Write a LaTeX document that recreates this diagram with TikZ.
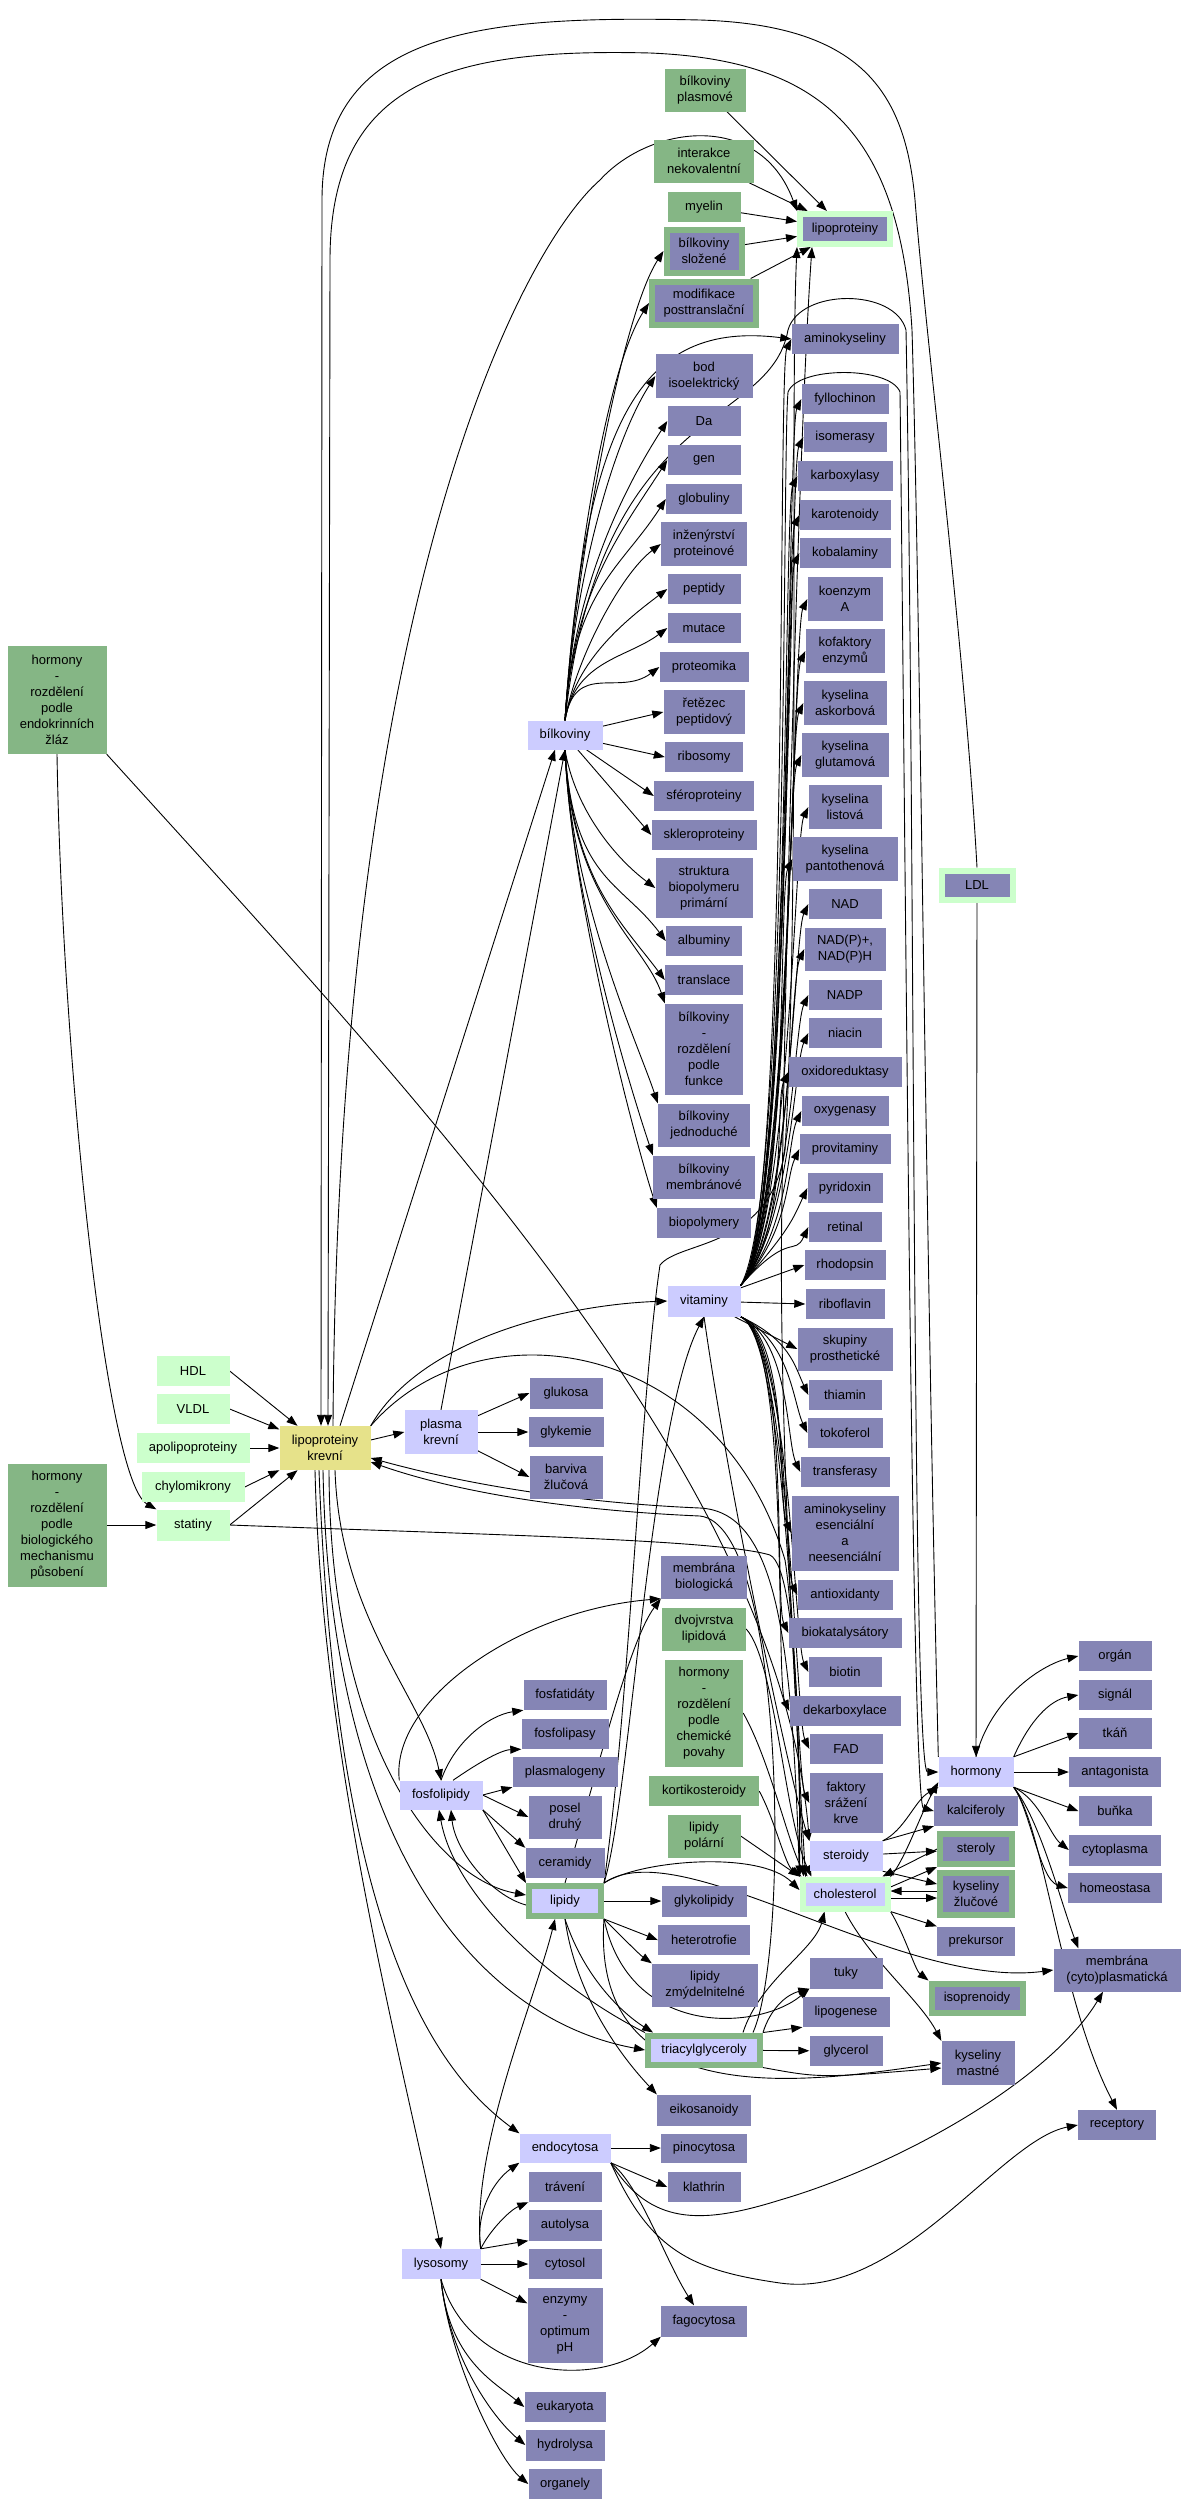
\documentclass[tikz,border=0pt]{standalone}
\usepackage{fontspec}
\setmainfont{Liberation Sans}
\usetikzlibrary{arrows.meta}
\pgfdeclarelayer{background}
\pgfsetlayers{background,main}
\tikzset{
   wd/.style={minimum width=#1pt},
   ht/.style={minimum height=#1pt},
   gframe/.style={draw=greenbox, line width=6pt, outer sep=3pt},
   pframe/.style={draw=palebox, line width=6pt, outer sep=3pt}
}
\begin{document}
\begin{tikzpicture}[x=1pt,y=1pt,>={Triangle[length=11pt,width=8pt]}]
  % Colors
  \definecolor{darkbox}{RGB}{133,133,181}
  \definecolor{lightbox}{RGB}{204,204,255}
  \definecolor{greenbox}{RGB}{133,182,133}
  \definecolor{palebox}{RGB}{204,255,204}
  \definecolor{yellowbox}{RGB}{230,226,138}

  % Styles
  \tikzstyle{nbox}=[rectangle,inner sep=1pt,align=center,minimum height=30pt,
                    font=\fontsize{13}{16}\selectfont]
  \tikzstyle{dbox}=[nbox,fill=darkbox]
  \tikzstyle{lbox}=[nbox,fill=lightbox]
  \tikzstyle{gbox}=[nbox,fill=greenbox]
  \tikzstyle{pbox}=[nbox,fill=palebox]
  \tikzstyle{ybox}=[nbox,fill=yellowbox]
  \tikzstyle{link}=[->,line width=0.9pt]

  \useasboundingbox (0,0) rectangle (1186,-2506);

  % The graphic
  % top: lipoproteiny
  \node[gbox,wd=81,ht=43] (bplas) at (705,-90) {bílkoviny\\plasmové};
  \node[gbox,wd=100,ht=43] (inter) at (704,-161) {interakce\\nekovalentní};
  \node[gbox,wd=73] (myel) at (704,-207) {myelin};
  \node[dbox,gframe,wd=75,ht=43] (bslo) at (704,-251) {bílkoviny\\složené};
  \node[dbox,gframe,wd=104,ht=43] (modif) at (704,-303) {modifikace\\posttranslační};
  \node[dbox,pframe,wd=90,ht=30] (lipo) at (845,-229) {lipoproteiny};

  % bílkoviny
  \node[lbox,wd=75,ht=29] (bilk) at (565,-735) {bílkoviny};
  \node[dbox,wd=97,ht=44] (bodiso) at (704,-376) {bod\\isoelektrický};
  \node[dbox,wd=73] (da) at (704,-421) {Da};
  \node[dbox,wd=73] (gen) at (704,-460) {gen};
  \node[dbox,wd=76] (glob) at (704,-499) {globuliny};
  \node[dbox,wd=86,ht=44] (inzen) at (704,-544) {inženýrství\\proteinové};
  \node[dbox,wd=73] (pept) at (704,-589) {peptidy};
  \node[dbox,wd=73] (mut) at (704,-628) {mutace};
  \node[dbox,wd=89] (prot) at (704,-667) {proteomika};
  \node[dbox,wd=81,ht=44] (retez) at (704,-712) {řetězec\\peptidový};
  \node[dbox,wd=78] (ribo) at (704,-757) {ribosomy};
  \node[dbox,wd=100] (sfer) at (704,-796) {sféroproteiny};
  \node[dbox,wd=105] (skler) at (704,-835) {skleroproteiny};
  \node[dbox,wd=97,ht=60] (strukt) at (704,-888) {struktura\\biopolymeru\\primární};
  \node[dbox,wd=76] (alb) at (704,-941) {albuminy};
  \node[dbox,wd=78] (transl) at (704,-980) {translace};
  \node[dbox,wd=78,ht=91] (bfunk) at (704,-1049) {bílkoviny\\-\\rozdělení\\podle\\funkce};
  \node[dbox,wd=92,ht=43] (bjedn) at (704,-1125) {bílkoviny\\jednoduché};
  \node[dbox,wd=102,ht=43] (bmemb) at (704,-1177) {bílkoviny\\membránové};
  \node[dbox,wd=94] (biopol) at (704,-1223) {biopolymery};

  % vitaminy
  \node[lbox,wd=73,ht=31] (vit) at (704,-1301) {vitaminy};
  \node[dbox,wd=107] (amino) at (845,-339) {aminokyseliny};
  \node[dbox,wd=87] (fyllo) at (845,-399) {fyllochinon};
  \node[dbox,wd=83] (isom) at (845,-437) {isomerasy};
  \node[dbox,wd=95] (karbox) at (845,-476) {karboxylasy};
  \node[dbox,wd=91] (karot) at (845,-515) {karotenoidy};
  \node[dbox,wd=91] (kobal) at (845,-553) {kobalaminy};
  \node[dbox,wd=75,ht=44] (koenz) at (845,-599) {koenzym\\A};
  \node[dbox,wd=79,ht=44] (kofakt) at (845,-651) {kofaktory\\enzymů};
  \node[dbox,wd=83,ht=44] (askorb) at (845,-703) {kyselina\\askorbová};
  \node[dbox,wd=87,ht=44] (glutam) at (845,-755) {kyselina\\glutamová};
  \node[dbox,wd=73,ht=44] (listova) at (845,-807) {kyselina\\listová};
  \node[dbox,wd=105,ht=44] (panto) at (845,-859) {kyselina\\pantothenová};
  \node[dbox,wd=73] (nad) at (845,-904) {NAD};
  \node[dbox,wd=81,ht=43] (nadph) at (845,-949) {NAD(P)+,\\NAD(P)H};
  \node[dbox,wd=73] (nadp) at (845,-995) {NADP};
  \node[dbox,wd=73] (niacin) at (845,-1033) {niacin};
  \node[dbox,wd=113] (oxidor) at (845,-1072) {oxidoreduktasy};
  \node[dbox,wd=87] (oxygen) at (845,-1111) {oxygenasy};
  \node[dbox,wd=91] (provit) at (845,-1149) {provitaminy};
  \node[dbox,wd=75] (pyrid) at (845,-1188) {pyridoxin};
  \node[dbox,wd=73] (retinal) at (845,-1227) {retinal};
  \node[dbox,wd=81] (rhodo) at (845,-1265) {rhodopsin};
  \node[dbox,wd=79] (ribofl) at (845,-1304) {riboflavin};
  \node[dbox,wd=95,ht=43] (skup) at (845,-1349) {skupiny\\prosthetické};
  \node[dbox,wd=73] (thiam) at (845,-1395) {thiamin};
  \node[dbox,wd=75] (tokof) at (845,-1433) {tokoferol};
  \node[dbox,wd=89] (transf) at (845,-1472) {transferasy};
  \node[dbox,wd=107,ht=75] (amiess) at (845,-1533) {aminokyseliny\\esenciální\\a\\neesenciální};
  \node[dbox,wd=95] (antiox) at (845,-1595) {antioxidanty};
  \node[dbox,wd=113] (biokat) at (845,-1633) {biokatalysátory};
  \node[dbox,wd=73] (biotin) at (845,-1672) {biotin};
  \node[dbox,wd=111] (dekarb) at (845,-1711) {dekarboxylace};
  \node[dbox,wd=73] (fad) at (846,-1749) {FAD};
  \node[dbox,wd=73,ht=60] (faktory) at (846,-1803) {faktory\\srážení\\krve};
  \node[dbox,pframe,wd=71,ht=29] (LDL) at (977,-885) {LDL};

  % lipoproteiny krevní
  \node[pbox,wd=73] (HDL) at (193,-1371) {HDL};
  \node[pbox,wd=73] (VLDL) at (193,-1409) {VLDL};
  \node[pbox,wd=113] (apolip) at (193,-1448) {apolipoproteiny};
  \node[pbox,wd=103] (chylo) at (193,-1487) {chylomikrony};
  \node[pbox,wd=73,ht=31] (statiny) at (193,-1525) {statiny};
  \node[ybox,wd=91,ht=44] (lpkrev) at (325,-1448) {lipoproteiny\\krevní};
  \node[gbox,wd=99,ht=108] (hormendo) at (57,-700) {hormony\\-\\rozdělení\\podle\\endokrinních\\žláz};
  \node[gbox,wd=99,ht=123] (hormbio) at (57,-1525) {hormony\\-\\rozdělení\\podle\\biologického\\mechanismu\\působení};
  \node[lbox,wd=73,ht=44] (plasma) at (441,-1432) {plasma\\krevní};
  \node[dbox,wd=73,ht=31] (gluk) at (566,-1393) {glukosa};
  \node[dbox,wd=75] (glyk) at (566,-1432) {glykemie};
  \node[dbox,wd=73,ht=43] (barv) at (566,-1477) {barviva\\žlučová};

  % lipidy
  \node[dbox,wd=86,ht=43] (membio) at (704,-1577) {membrána\\biologická};
  \node[gbox,wd=84,ht=43] (dvojv) at (704,-1629) {dvojvrstva\\lipidová};
  \node[gbox,wd=78,ht=107] (hormchem) at (704,-1713) {hormony\\-\\rozdělení\\podle\\chemické\\povahy};
  \node[gbox,wd=110] (kortik) at (704,-1791) {kortikosteroidy};
  \node[gbox,wd=73,ht=43] (lippol) at (704,-1836) {lipidy\\polární};
  \node[lbox,wd=83,ht=29] (fosfolip) at (441,-1795) {fosfolipidy};
  \node[dbox,wd=83] (fosfat) at (565,-1695) {fosfatidáty};
  \node[dbox,wd=87] (fosfol) at (565,-1734) {fosfolipasy};
  \node[dbox,wd=105] (plasmal) at (565,-1772) {plasmalogeny};
  \node[dbox,wd=73,ht=43] (posel) at (565,-1817) {posel\\druhý};
  \node[dbox,wd=79] (ceram) at (565,-1863) {ceramidy};
  \node[lbox,gframe,wd=72,ht=30] (lipidy) at (565,-1901) {lipidy};
  \node[dbox,wd=85,ht=31] (glykol) at (704,-1901) {glykolipidy};
  \node[dbox,wd=92] (hetero) at (704,-1940) {heterotrofie};
  \node[dbox,wd=106,ht=43] (lipzmyd) at (705,-1985) {lipidy\\zmýdelnitelné};
  \node[lbox,gframe,wd=112,ht=29] (triacyl) at (704,-2050) {triacylglyceroly};
  \node[dbox,wd=94,ht=31] (eikos) at (704,-2110) {eikosanoidy};
  \node[lbox,wd=73] (steroidy) at (846,-1856) {steroidy};
  \node[lbox,pframe,wd=85,ht=29] (chol) at (845,-1894) {cholesterol};
  \node[dbox,wd=73,ht=31] (tuky) at (846,-1973) {tuky};
  \node[dbox,wd=87] (lipog) at (846,-2012) {lipogenese};
  \node[dbox,wd=73] (glycerol) at (846,-2051) {glycerol};

  % hormony
  \node[lbox,wd=75] (hormony) at (976,-1772) {hormony};
  \node[dbox,wd=84] (kalcif) at (976,-1811) {kalciferoly};
  \node[dbox,gframe,wd=72,ht=30] (steroly) at (976,-1849) {steroly};
  \node[dbox,gframe,wd=72,ht=42] (kysz) at (976,-1894) {kyseliny\\žlučové};
  \node[dbox,wd=78,ht=29] (prek) at (976,-1941) {prekursor};
  \node[dbox,gframe,wd=91,ht=29] (isopr) at (977,-1998) {isoprenoidy};
  \node[dbox,wd=73,ht=44] (kysmast) at (978,-2063) {kyseliny\\mastné};
  \node[dbox,wd=73] (organ) at (1115,-1656) {orgán};
  \node[dbox,wd=73] (signal) at (1115,-1695) {signál};
  \node[dbox,wd=73,ht=31] (tkan) at (1115,-1733) {tkáň};
  \node[dbox,wd=92] (antag) at (1115,-1772) {antagonista};
  \node[dbox,wd=73] (bunka) at (1115,-1811) {buňka};
  \node[dbox,wd=92,ht=31] (cytopl) at (1115,-1850) {cytoplasma};
  \node[dbox,wd=94] (homeo) at (1115,-1888) {homeostasa};
  \node[dbox,wd=127,ht=43] (membcyt) at (1117,-1970) {membrána\\(cyto)plasmatická};
  \node[dbox,wd=78] (recept) at (1117,-2125) {receptory};

  % endocytosa, lysosomy
  \node[lbox,wd=91,ht=29] (endo) at (565,-2148) {endocytosa};
  \node[dbox,wd=86,ht=29] (pino) at (704,-2148) {pinocytosa};
  \node[dbox,wd=73] (klath) at (704,-2187) {klathrin};
  \node[dbox,wd=86,ht=31] (fago) at (704,-2321) {fagocytosa};
  \node[dbox,wd=73] (trav) at (565,-2187) {trávení};
  \node[dbox,wd=73,ht=31] (autol) at (565,-2225) {autolysa};
  \node[dbox,wd=73] (cytosol) at (565,-2264) {cytosol};
  \node[dbox,wd=75,ht=75] (enzym) at (565,-2325) {enzymy\\-\\optimum\\pH};
  \node[dbox,wd=81] (euk) at (565,-2407) {eukaryota};
  \node[dbox,wd=79,ht=31] (hydrol) at (565,-2445) {hydrolysa};
  \node[dbox,wd=73] (organely) at (565,-2484) {organely};
  \node[lbox,wd=79] (lyso) at (441,-2264) {lysosomy};

  % Links
  \begin{pgfonlayer}{background}
  \fill[white] (0,0) rectangle (1186,-2506);

  % into lipoproteiny
  \foreach \s in {bplas,inter,myel,bslo,modif}
    \draw[link] (\s) -- (lipo);
  \draw[link] ([xshift=8pt]lpkrev.north) .. controls (338,-600) and (520,-250) .. (600,-180)
     .. controls (650,-125) and (760,-110) .. (lipo.north west);

  % bílkoviny
  \foreach \t in {bslo,modif,bodiso,da,gen,glob}
    \draw[link] (bilk.north) .. controls +(8,130) and +(-45,-70) .. (\t.west);
  \draw[link] (bilk.north) .. controls (585,-420) and (640,-320) .. (amino.west);
  \foreach \t in {inzen,pept,mut,prot}
    \draw[link] (bilk.north) .. controls +(10,60) and +(-40,-30) .. (\t.west);
  \foreach \t in {retez,ribo,sfer,skler}
    \draw[link] (bilk) -- (\t.west);
  \draw[link] (bilk.south) .. controls +(10,-60) and +(-40,30) .. (strukt.west);
  \foreach \t in {alb,transl}
    \draw[link] (bilk.south) .. controls +(8,-130) and +(-45,60) .. (\t.west);
  \foreach \t in {bfunk,bjedn,bmemb,biopol}
    \draw[link] (bilk.south) .. controls +(6,-150) and +(-20,60) .. (\t.north west);
  \draw[link] (bilk.north) .. controls (600,-400) and (770,-430) .. (788,-330)
     .. controls (800,-288) and (895,-288) .. (906,-330)
     .. controls (915,-800) and (912,-1772) .. (hormony.west);

  % vitaminy
  \foreach \t in {amino,fyllo,isom,karbox,karot,kobal,koenz,kofakt,askorb,glutam,
                  listova,panto,nad,nadph,nadp,niacin,oxidor,oxygen,provit,pyrid,retinal}
    \draw[link] (vit.north east) .. controls (790,-1230) and +(-14,-30) .. (\t.west);
  \foreach \t in {rhodo,ribofl,skup}
    \draw[link] (vit) -- (\t.west);
  \foreach \t in {thiam,tokof,transf,amiess,antiox,biokat,biotin,dekarb,fad,faktory}
    \draw[link] (vit.south east) .. controls (790,-1340) and +(-14,30) .. (\t.west);
  \draw[link] (vit.south) .. controls (730,-1500) and (790,-1780) .. (steroidy.north west);
  \draw[link] (vit.north east) .. controls (790,-1200) and (782,-460) .. (788,-392)
     .. controls (798,-366) and (890,-366) .. (900,-392)
     .. controls (906,-900) and (912,-1805) .. (kalcif.west);

  % lipoproteiny krevní
  \foreach \s in {HDL,VLDL,apolip,chylo,statiny}
    \draw[link] (\s.east) -- (lpkrev);
  \draw[link] (hormendo.south) .. controls (62,-1050) and (105,-1480) .. (statiny.north west);
  \draw[link] (hormbio) -- (statiny);
  \draw[link] (hormendo.south east) .. controls (420,-1100) and (780,-1480) .. (steroidy.north west);
  \draw[link] (statiny.east) .. controls (500,-1535) and (720,-1540) .. (770,-1555)
     .. controls (800,-1570) and (800,-1800) .. (chol.north west);
  \draw[link] (LDL.north) .. controls (965,-650) and (925,-330) .. (915,-200)
     .. controls (905,-90) and (860,-25) .. (700,-20)
     .. controls (480,-15) and (322,-30) .. (322,-200) -- ([xshift=-4pt]lpkrev.north);
  \draw[link] (hormony.north west) .. controls (925,-1200) and (920,-600) .. (912,-330)
     .. controls (900,-130) and (820,-60) .. (650,-53)
     .. controls (450,-48) and (330,-80) .. (330,-260) -- ([xshift=3pt]lpkrev.north);
  \draw[link] (LDL) -- (hormony);
  \draw[link] ([yshift=8pt]lpkrev.east) -- (plasma.west);
  \foreach \t in {gluk,glyk,barv}
    \draw[link] (plasma) -- (\t.west);
  \draw[link] ([xshift=15pt]lpkrev.north) -- ([xshift=-10pt]bilk.south);
  \draw[link] (plasma.north) -- (bilk.south);
  \draw[link] (lpkrev.north east) .. controls (420,-1340) and (560,-1305) .. (vit.west);
  \draw[link] (lpkrev.north east) .. controls (480,-1300) and (720,-1340) .. (785,-1560)
     .. controls (795,-1620) and (800,-1820) .. ([xshift=4pt]chol.north west);
  \draw[link] ([xshift=10pt]lpkrev.south) .. controls (340,-1620) and (425,-1700) .. (fosfolip.north);
  \draw[link] ([xshift=4pt]lpkrev.south) .. controls (330,-1750) and (440,-1880) .. ([yshift=6pt]lipidy.west);
  \draw[link] ([xshift=-2pt]lpkrev.south) .. controls (330,-1850) and (480,-2020) .. (triacyl.west);
  \draw[link] ([xshift=-6pt]lpkrev.south) .. controls (335,-1900) and (420,-2060) .. (endo.north west);
  \draw[link] ([xshift=-10pt]lpkrev.south) .. controls (322,-1760) and (400,-2050) .. (lyso.north);
  \draw[link] (chol.north west) .. controls (792,-1650) and (780,-1512) .. (700,-1508)
     .. controls (560,-1502) and (450,-1480) .. ([yshift=-10pt]lpkrev.east);
  \draw[link] ([xshift=-10pt]triacyl.north east) .. controls (790,-1950) and (785,-1525) .. (700,-1516)
     .. controls (560,-1510) and (450,-1490) .. ([yshift=-14pt]lpkrev.east);

  % fosfolipidy
  \draw[link] (fosfolip.north) .. controls (455,-1740) and (490,-1715) .. (fosfat.south west);
  \draw[link] ([xshift=12pt]fosfolip.north) .. controls (475,-1765) and (500,-1750) .. (fosfol.south west);
  \draw[link] (fosfolip.east) -- (plasmal.south west);
  \draw[link] (fosfolip.east) -- (posel.west);
  \draw[link] (fosfolip.south east) -- (ceram.north west);
  \draw[link] (fosfolip.north west) .. controls (390,-1700) and (520,-1610) .. (membio.south west);
  \draw[link] (fosfolip.south east) -- (lipidy.north west);
  \draw[link] ([yshift=-4pt]lipidy.west) .. controls (490,-1895) and (455,-1850) .. ([xshift=10pt]fosfolip.south);
  \draw[link] (triacyl.north west) .. controls (560,-1990) and (455,-1900) .. ([xshift=-2pt]fosfolip.south);

  % lipidy
  \draw[link] (lyso.north east) .. controls (470,-2150) and (535,-2000) .. ([xshift=-10pt]lipidy.south);
  \draw[link] (lipidy) -- (glykol);
  \draw[link] (lipidy.south east) -- (hetero.west);
  \draw[link] (lipidy.south east) .. controls (620,-1935) and (640,-1955) .. (lipzmyd.north west);
  \draw[link] (lipidy.south) .. controls (585,-1980) and (625,-2015) .. ([xshift=8pt]triacyl.north west);
  \draw[link] (lipidy.south) .. controls (575,-1990) and (615,-2050) .. (eikos.north west);
  \draw[link] (lipidy.north east) .. controls (630,-1800) and (650,-1420) .. (vit.south);
  \draw[link] (lipidy.north) .. controls (600,-1760) and (630,-1640) .. (membio.south west);
  \draw[link] (lipidy.north east) .. controls (630,-1700) and (640,-1400) .. (660,-1265)
     .. controls (680,-1240) and (770,-1250) .. (785,-1150)
     .. controls (800,-900) and (790,-400) .. (lipo.south west);
  \draw[link] (lipidy.north east) .. controls (640,-1860) and (760,-1850) .. ([yshift=4pt]chol.west);
  \draw[link] (lipidy.north east) .. controls (680,-1830) and (900,-1990) .. (membcyt.west);
  \draw[link] (lipidy.south east) .. controls (590,-2120) and (820,-2080) .. (kysmast.west);
  \draw[link] (lipidy.south east) .. controls (630,-2040) and (760,-2030) .. (tuky.south west);

  % triacylglyceroly
  \draw[link] (triacyl.north east) .. controls (770,-2010) and (785,-1995) .. (tuky.south west);
  \draw[link] (triacyl.north east) -- (lipog.south west);
  \draw[link] (triacyl) -- (glycerol);
  \draw[link] (triacyl.south east) .. controls (820,-2078) .. ([yshift=-5pt]kysmast.west);
  \draw[link] ([xshift=-20pt]triacyl.north east) .. controls (760,-1980) and (815,-1950) .. ([xshift=25pt]chol.south west);

  % cholesterol, steroidy
  \draw[link] ([xshift=6pt]chol.north west) .. controls (795,-1700) and (778,-1400) .. (782,-1200)
     .. controls (786,-900) and (800,-420) .. ([xshift=15pt]lipo.south west);
  \draw[link] (hormchem.east) .. controls (770,-1760) and (790,-1850) .. ([xshift=8pt]chol.north west);
  \draw[link] (kortik.east) .. controls (775,-1820) and (785,-1865) .. ([xshift=2pt]chol.north west);
  \draw[link] (lippol.east) -- (chol.north west);
  \draw[link] (dvojv.east) .. controls (775,-1660) and (785,-1820) .. ([xshift=12pt]chol.north west);
  \draw[link] (steroidy.north east) -- (kalcif.south west);
  \draw[link] (steroidy) -- (steroly);
  \draw[link] (steroidy.south east) -- ([yshift=10pt]kysz.west);
  \draw[link] (steroidy.north east) .. controls (905,-1830) and (915,-1800) .. (hormony.south west);
  \draw[link] (chol.north east) .. controls (905,-1860) and (920,-1815) .. ([yshift=5pt]hormony.south west);
  \draw[link] (steroly.west) -- ([xshift=-8pt]chol.north east);
  \draw[link] ([yshift=7pt]chol.east) -- (steroly.south west);
  \draw[link] ([yshift=3pt]kysz.west) -- ([yshift=3pt]chol.east);
  \draw[link] ([yshift=-4pt]chol.east) -- ([yshift=-4pt]kysz.west);
  \draw[link] (chol.south east) -- (prek.north west);
  \draw[link] (chol.south east) .. controls (905,-1935) and (915,-1970) .. (isopr.north west);
  \draw[link] (chol.south) .. controls (870,-1960) and (920,-2000) .. (kysmast.north west);

  % hormony
  \draw[link] (hormony.north) .. controls (990,-1700) and (1040,-1665) .. (organ.west);
  \draw[link] (hormony.north east) .. controls (1030,-1720) and (1050,-1700) .. (signal.west);
  \draw[link] (hormony.north east) -- (tkan.west);
  \draw[link] (hormony) -- (antag);
  \draw[link] (hormony.south east) -- (bunka.west);
  \draw[link] (hormony.south east) .. controls (1040,-1800) and (1050,-1835) .. (cytopl.west);
  \draw[link] (hormony.south east) .. controls (1030,-1810) and (1040,-1880) .. (homeo.west);
  \draw[link] (hormony.south east) .. controls (1040,-1820) and (1060,-1900) .. ([xshift=25pt]membcyt.north west);
  \draw[link] (hormony.south east) .. controls (1045,-1830) and (1060,-2000) .. (recept.north);

  % endocytosa, lysosomy
  \draw[link] (lyso.north east) .. controls (475,-2210) and (495,-2180) .. (endo.south west);
  \draw[link] (lyso.north east) .. controls (490,-2230) and (510,-2210) .. (trav.south west);
  \draw[link] (lyso.north east) -- (autol.south west);
  \draw[link] (lyso) -- (cytosol);
  \draw[link] (lyso.south east) -- ([yshift=-16pt]enzym.north west);
  \draw[link] (lyso.south) .. controls (470,-2380) and (600,-2390) .. (fago.south west);
  \foreach \t in {euk,hydrol,organely}
    \draw[link] (lyso.south) .. controls +(8,-80) and +(-30,25) .. (\t.west);
  \draw[link] (endo) -- (pino);
  \draw[link] (endo.south east) -- (klath.west);
  \draw[link] (endo.south east) .. controls (640,-2185) and (665,-2260) .. ([xshift=-10pt]fago.north);
  \draw[link] (endo.south east) .. controls (650,-2225) and (700,-2225) .. (780,-2200)
     .. controls (900,-2165) and (1050,-2080) .. ([xshift=-14pt]membcyt.south);
  \draw[link] (endo.south east) .. controls (650,-2250) and (690,-2270) .. (780,-2283)
     .. controls (900,-2300) and (1000,-2140) .. (recept.west);
  \end{pgfonlayer}
\end{tikzpicture}
\end{document}
